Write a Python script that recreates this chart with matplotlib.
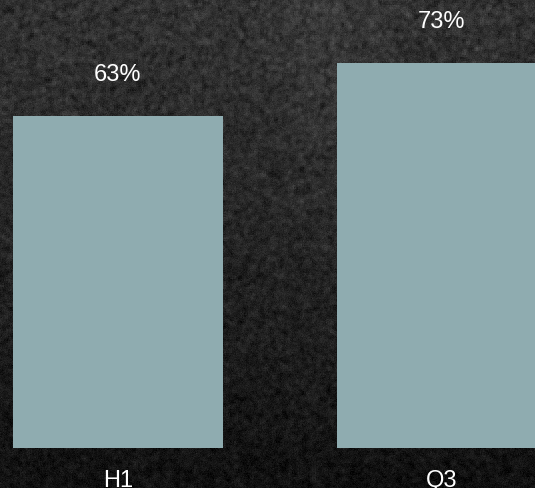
import numpy as np
import matplotlib
matplotlib.use("Agg")
import matplotlib.pyplot as plt

categories = ["H1", "Q3"]
values = [63, 73]
value_labels = ["63%", "73%"]

W, H, DPI = 535, 489, 100
fig = plt.figure(figsize=(W / DPI, H / DPI), dpi=DPI)

# Dark grainy backdrop: mottled noise over a top-to-bottom darkening
rng = np.random.default_rng(7)
coarse = rng.normal(0, 1, (H // 2 + 2, W // 2 + 2))
k = np.array([1, 2, 1], float) / 4
coarse = np.apply_along_axis(lambda r: np.convolve(r, k, mode="same"), 1, coarse)
coarse = np.apply_along_axis(lambda c: np.convolve(c, k, mode="same"), 0, coarse)
tex = np.kron(coarse, np.ones((2, 2)))[:H, :W]
fine = rng.normal(0, 1, (H, W))
yy = np.linspace(0, 1, H)[:, None]
xx = np.linspace(0, 1, W)[None, :]
base = 50 - 34 * yy ** 1.2 + 8 * np.exp(-((xx - 0.62) ** 2) / 0.01) * (1 - yy)
amp = 19 - 8 * yy
gray = np.clip(base + amp * tex + 5 * fine, 0, 255) / 255.0
bg = fig.add_axes([0, 0, 1, 1])
bg.imshow(np.dstack([gray, gray, gray]), aspect="auto", interpolation="nearest")
bg.set_axis_off()

# Bar plot area: baseline sits just above the category labels
ax = fig.add_axes([0, 1 - 449 / H, 1, 449 / H])
ax.patch.set_alpha(0)
x = np.arange(len(categories))
ax.bar(x, values, width=0.648, color="#8FACB0")
ax.set_xlim(-0.364, 1.287)
ax.set_ylim(0, 85.2)

font = "Liberation Sans"
for xi, v, lab in zip(x, values, value_labels):
    ax.annotate(lab, (xi, v), xytext=(0, 42), textcoords="offset pixels",
                ha="center", va="center", color="white", fontsize=17, family=font)

ax.set_xticks(x)
ax.set_xticklabels(categories, color="white", fontsize=17, family=font)
ax.tick_params(axis="x", length=0, pad=15)
ax.set_yticks([])
for s in ax.spines.values():
    s.set_visible(False)

fig.savefig("out.png", dpi=DPI)
